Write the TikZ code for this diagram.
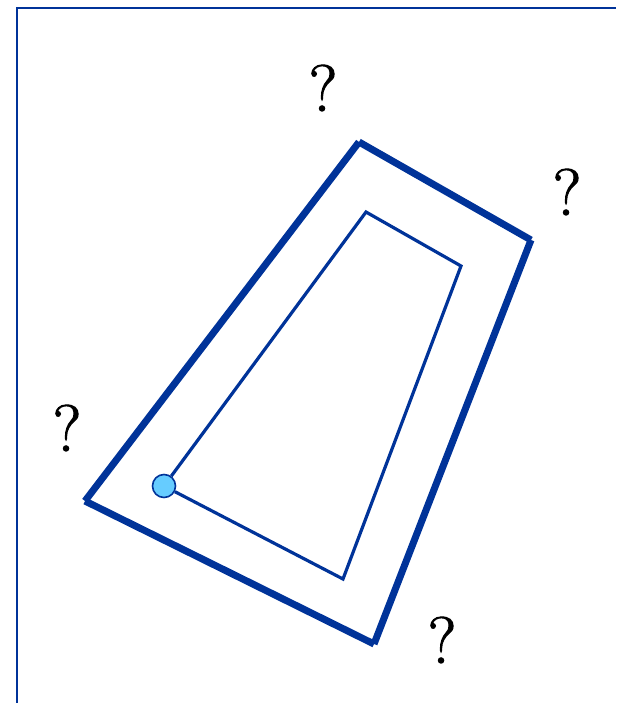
\documentclass[tikz,border=0pt]{standalone}
\usepackage{fontspec}
\newfontfamily\qfont[FakeBold=1.6]{Latin Modern Roman}
\usepackage{xcolor}
\definecolor{dblue}{HTML}{003399}
\definecolor{lblue}{HTML}{66CCFF}
\begin{document}
\begin{tikzpicture}[x=1pt,y=-1pt,
  frame/.style={draw=dblue,line width=2pt},
  outer/.style={draw=dblue,line width=7pt,line cap=butt},
  inner/.style={draw=dblue,line width=3.2pt,line cap=butt,line join=miter},
  qm/.style={inner sep=0pt,font=\qfont\fontsize{66}{66}\selectfont}]
\useasboundingbox (0,0) rectangle (616,703);
% frame
\coordinate (f1) at (17,703);
\coordinate (f2) at (17,8);
\coordinate (f3) at (616,8);
\draw[frame] (f1) -- (f2) -- (f3);
% outer quadrilateral
\coordinate (A) at (359,142);
\coordinate (B) at (531,240);
\coordinate (C) at (374,644);
\coordinate (D) at (85,501);
\draw[outer] (D) -- (A);
\draw[outer] (A) -- (B);
\draw[outer] (B) -- (C);
\draw[outer] (C) -- (D);
% inner path
\node[circle,draw=dblue,fill=lblue,line width=1.6pt,minimum size=23pt,inner sep=0pt] (s) at (164,486) {};
\coordinate (p1) at (366,212);
\coordinate (p2) at (461,266);
\coordinate (p3) at (343,579);
\draw[inner] (s) -- (p1) -- (p2) -- (p3) -- (s);
% question marks
\node[qm] (q1) at (323,88) {?};
\node[qm] (q2) at (567,192) {?};
\node[qm] (q3) at (67,428) {?};
\node[qm] (q4) at (442,640) {?};
\end{tikzpicture}
\end{document}
